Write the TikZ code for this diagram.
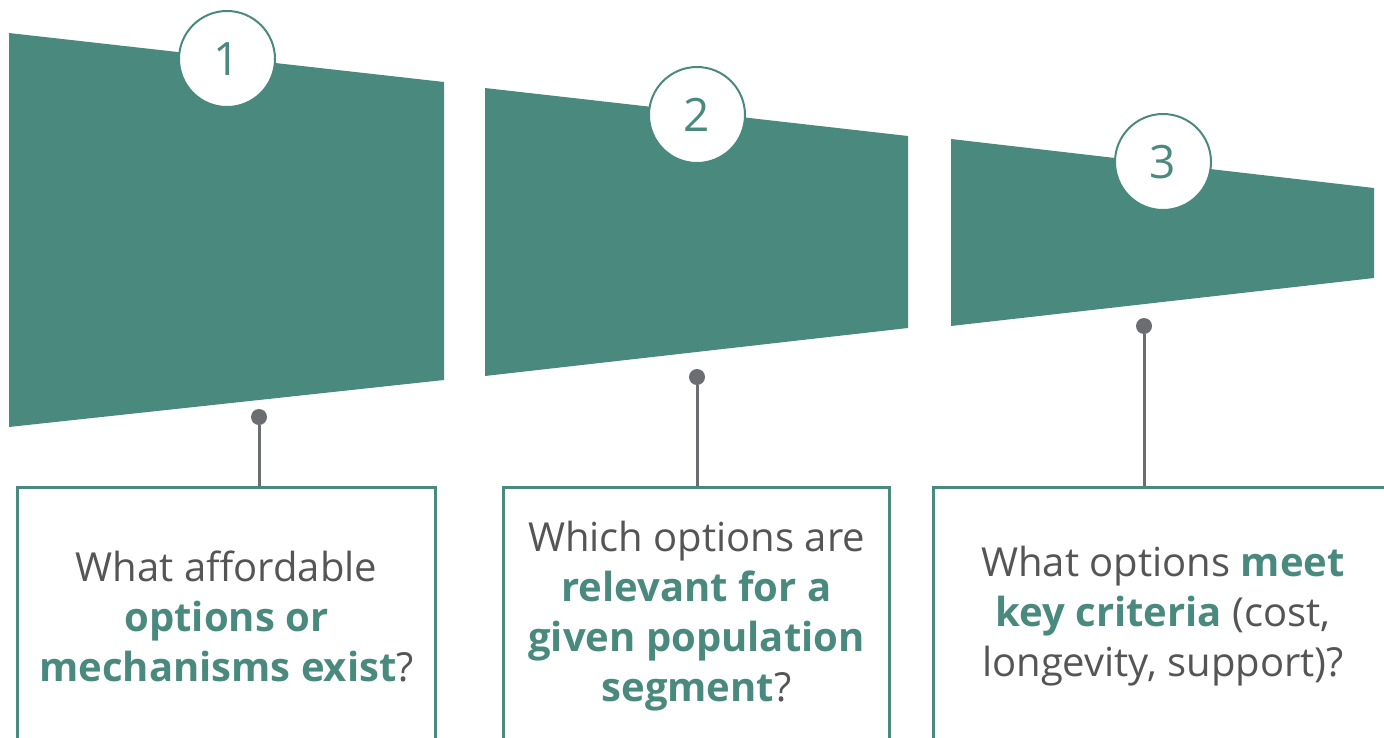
\documentclass[tikz,border=0pt]{standalone}
\usepackage{fontspec}
\setmainfont{Open Sans}
\usetikzlibrary{positioning, calc}
\definecolor{stepteal}{RGB}{74, 138, 126}
\definecolor{textgray}{RGB}{85, 85, 85}
\definecolor{pingray}{RGB}{108, 109, 113}

\newcommand{\hl}[1]{\textbf{\textcolor{stepteal}{#1}}}

\begin{document}
\begin{tikzpicture}[
    x=1pt, y=-1pt,
    % Styles embedded for portability
    funnel/.style={fill=stepteal},
    stepnum/.style={circle, draw=stepteal, line width=2pt, fill=white, minimum size=96pt, inner sep=0pt, text=stepteal, font=\fontsize{46}{50}\selectfont},
    pin_dot/.style={circle, fill=pingray, minimum size=16pt, inner sep=0pt},
    pin_line/.style={draw=pingray, line width=3pt},
    question/.style={rectangle, draw=stepteal, line width=3pt, fill=white, minimum height=258pt, anchor=north, align=center, text=textgray, font=\fontsize{40}{50}\selectfont}
]
    \useasboundingbox (0,0) rectangle (1384,737);
    \clip (0,0) rectangle (1384,737);

    % --- FUNNEL SEGMENTS ---
    \fill [funnel] (9,33) -- (444,82) -- (444,380) -- (9,427) -- cycle;
    \fill [funnel] (485,88) -- (908,136) -- (908,328) -- (485,376) -- cycle;
    \fill [funnel] (951,139) -- (1374,188) -- (1374,278) -- (951,326) -- cycle;

    % --- STEP NUMBERS ---
    \node [stepnum] (num1) at (227,59) {1};
    \node [stepnum] (num2) at (697,115) {2};
    \node [stepnum] (num3) at (1163,162) {3};

    % --- QUESTION BOXES ---
    \node [question, minimum width=418pt] (q1) at (226.5,486) {What affordable\\\hl{options or}\\\hl{mechanisms exist}?};
    \node [question, minimum width=386pt] (q2) at (696.5,486) {Which options are\\\hl{relevant for a}\\\hl{given population}\\\hl{segment}?};
    \node [question, minimum width=459pt] (q3) at (1163,486) {What options \hl{meet}\\\hl{key criteria} (cost,\\longevity, support)?};

    % --- PINS ---
    \node [pin_dot] (dot1) at (259,417) {};
    \node [pin_dot] (dot2) at (697,377) {};
    \node [pin_dot] (dot3) at (1144,326) {};

    \draw [pin_line] (dot1) -- (dot1 |- q1.north);
    \draw [pin_line] (dot2) -- (dot2 |- q2.north);
    \draw [pin_line] (dot3) -- (dot3 |- q3.north);

\end{tikzpicture}
\end{document}
